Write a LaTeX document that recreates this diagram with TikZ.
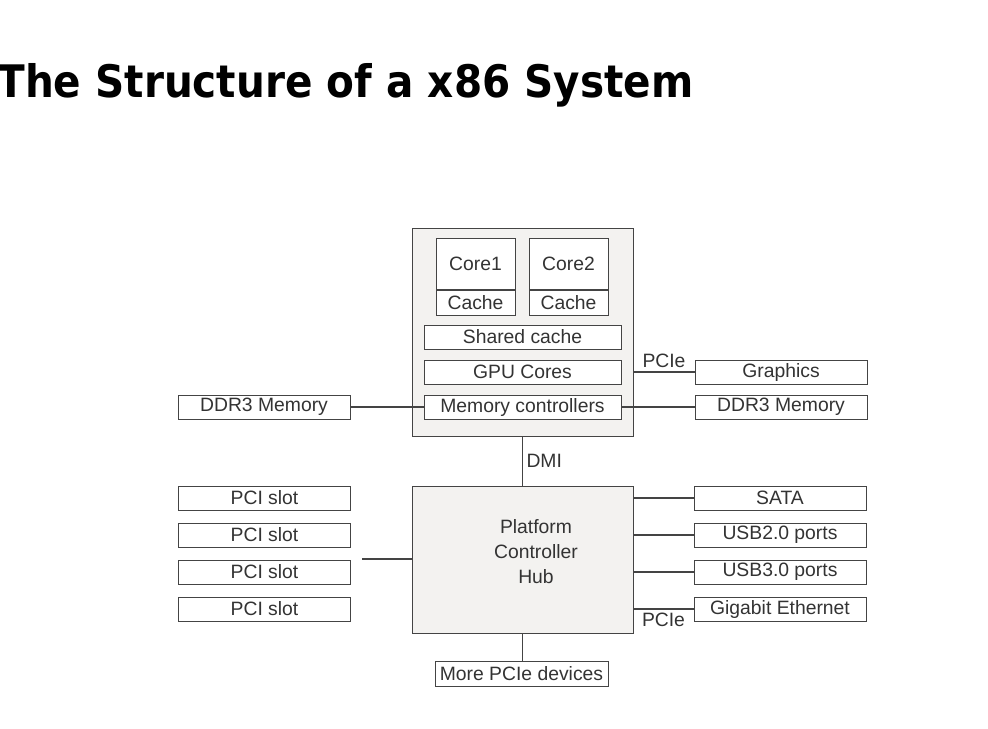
\documentclass[tikz,border=0pt]{standalone}
\usepackage{fontspec}
\setmainfont{Liberation Sans}
\newfontfamily\titlefont{DejaVu Sans}
\usetikzlibrary{positioning,calc}
\definecolor{linegray}{HTML}{444444}
\definecolor{boxfill}{HTML}{F3F2F0}

\begin{document}
\begin{tikzpicture}[
    x=0.02cm, y=-0.02cm,
    every node/.style={font=\fontsize{11}{13}\selectfont, text=black!80, inner sep=1pt},
    chip/.style={draw=linegray, fill=boxfill, minimum width=4.42cm, align=center},
    part/.style={draw=linegray, fill=white, minimum height=0.48cm},
    bar/.style={part, minimum width=3.94cm},
    dev/.style={part, minimum width=3.44cm},
    core/.style={draw=linegray, fill=white, minimum width=1.58cm},
    link/.style={draw=linegray, semithick}
]
\useasboundingbox (0,0) rectangle (988,728);

% title
\node[anchor=base west, font=\titlefont\bfseries\fontsize{25.5}{30}\selectfont, text=black, inner sep=0pt] (title) at (-3,97) {\scalebox{0.905}[1]{The Structure of a x86 System}};

% processor
\node[chip, minimum height=4.16cm] (cpu) at (522.5,332) {};
\node[core, minimum height=1.02cm] (core1) at (475.5,263.5) {Core1};
\node[core, minimum height=0.5cm] (cache1) at (475.5,302.5) {Cache};
\node[core, minimum height=1.02cm] (core2) at (568.5,263.5) {Core2};
\node[core, minimum height=0.5cm] (cache2) at (568.5,302.5) {Cache};
\node[bar] (shared) at (522.5,337) {Shared cache};
\node[bar] (gpu) at (522.5,372) {GPU Cores};
\node[bar] (memctl) at (522.5,407) {Memory controllers};

\node[dev] (ddrl) at (264,407) {DDR3 Memory};
\node[dev] (gfx) at (781,372) {Graphics};
\node[dev] (ddrr) at (781,407) {DDR3 Memory};

% platform controller hub
\node[chip, minimum height=2.94cm] (pch) at (522.5,559.5) {};
\node[align=center, font=\fontsize{11}{14.2}\selectfont] (pchtext) at (536,552) {Platform\\Controller\\Hub};

\foreach \i/\y in {1/498,2/535,3/572,4/609}
  \node[dev] (pci\i) at (264.5,\y) {PCI slot};
\coordinate (pcibus) at (362,559);

\node[dev] (sata) at (780,498) {SATA};
\node[dev] (usb2) at (780,535) {USB2.0 ports};
\node[dev] (usb3) at (780,572) {USB3.0 ports};
\node[dev] (gbe) at (780,609) {Gigabit Ethernet};
\node[part, minimum width=3.46cm, minimum height=0.5cm] (more) at (521.5,673.5) {More PCIe devices};

% connections
\draw[link] (ddrl.east) -- (memctl.west);
\draw[link] (memctl.east) -- (ddrr.west);
\draw[link] (cpu.east |- gfx) -- node[above=1pt] {PCIe} (gfx.west);
\draw[link] (cpu.south) -- node[right=1pt] {DMI} (pch.north);
\draw[link] (pcibus) -- (pch.west |- pcibus);
\draw[link] (pch.east |- sata) -- (sata.west);
\draw[link] (pch.east |- usb2) -- (usb2.west);
\draw[link] (pch.east |- usb3) -- (usb3.west);
\draw[link] (pch.east |- gbe) -- node[below=1pt] {PCIe} (gbe.west);
\draw[link] (pch.south) -- (pch.south |- more.north);
\end{tikzpicture}
\end{document}
